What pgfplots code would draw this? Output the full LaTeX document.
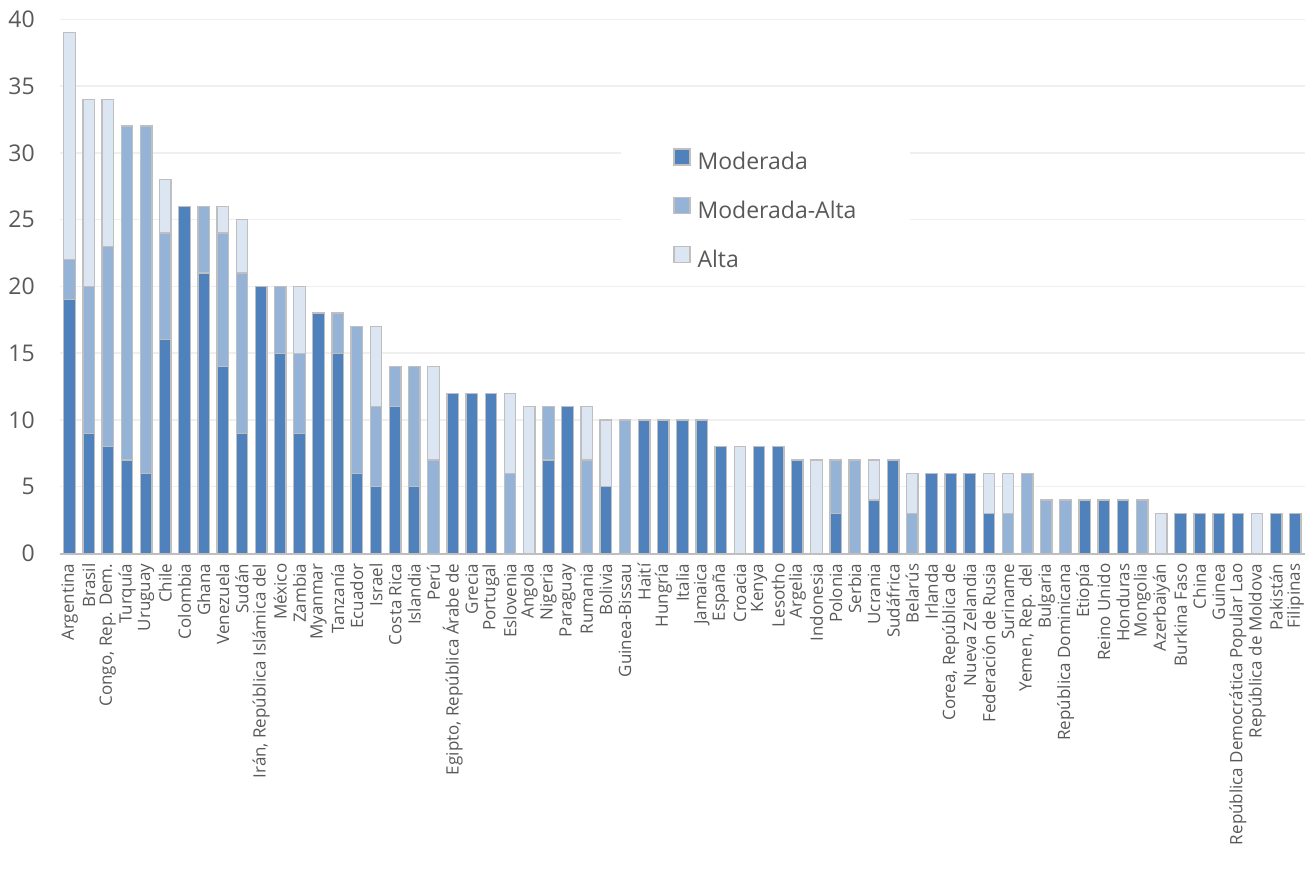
\documentclass[border=0pt]{standalone}
\usepackage{fontspec}
\setmainfont{Open Sans}
\usepackage{pgfplots}
\usepackage{pgfplotstable}
\pgfplotsset{compat=1.18}

\definecolor{cmod}{HTML}{4F81BD}
\definecolor{cmodalta}{HTML}{95B3D7}
\definecolor{calta}{HTML}{DCE6F2}
\definecolor{cedge}{HTML}{BFBFBF}
\definecolor{ctext}{HTML}{595959}
\definecolor{cgrid}{HTML}{EFEFEF}

% x: country index, mod: Moderada, ma: Moderada-Alta, al: Alta
\pgfplotstableread{
x  mod ma al
0  19  3  17
1  9   11 14
2  8   15 11
3  7   25 0
4  6   26 0
5  16  8  4
6  26  0  0
7  21  5  0
8  14  10 2
9  9   12 4
10 20  0  0
11 15  5  0
12 9   6  5
13 18  0  0
14 15  3  0
15 6   11 0
16 5   6  6
17 11  3  0
18 5   9  0
19 0   7  7
20 12  0  0
21 12  0  0
22 12  0  0
23 0   6  6
24 0   0  11
25 7   4  0
26 11  0  0
27 0   7  4
28 5   0  5
29 0   10 0
30 10  0  0
31 10  0  0
32 10  0  0
33 10  0  0
34 8   0  0
35 0   0  8
36 8   0  0
37 8   0  0
38 7   0  0
39 0   0  7
40 3   4  0
41 0   7  0
42 4   0  3
43 7   0  0
44 0   3  3
45 6   0  0
46 6   0  0
47 6   0  0
48 3   0  3
49 0   3  3
50 0   6  0
51 0   4  0
52 0   4  0
53 4   0  0
54 4   0  0
55 4   0  0
56 0   4  0
57 0   0  3
58 3   0  0
59 3   0  0
60 3   0  0
61 3   0  0
62 0   0  3
63 3   0  0
64 3   0  0
}\datos

\begin{document}
\begin{tikzpicture}
\useasboundingbox (0,0) rectangle (1310pt,876pt);
\begin{axis}[
  at={(60pt,322.5pt)}, anchor=south west,
  scale only axis, width=1245pt, height=534.2pt,
  xmin=-0.5, xmax=64.5, ymin=0, ymax=40,
  ybar stacked, bar width=11.5pt,
  axis lines*=left,
  x axis line style={draw=cedge, line width=2pt},
  y axis line style={draw=none},
  ymajorgrids, grid style={draw=cgrid, line width=1.5pt},
  ytick={0,5,...,40},
  major tick length=0pt,
  xtick=data,
  xticklabels={Argentina, Brasil, {Congo, Rep. Dem.}, Turquía, Uruguay, Chile,
    Colombia, Ghana, Venezuela, Sudán, {Irán, República Islámica del}, México,
    Zambia, Myanmar, Tanzanía, Ecuador, Israel, Costa Rica, Islandia, Perú,
    {Egipto, República Árabe de}, Grecia, Portugal, Eslovenia, Angola, Nigeria,
    Paraguay, Rumania, Bolivia, Guinea-Bissau, Haití, Hungría, Italia, Jamaica,
    España, Croacia, Kenya, Lesotho, Argelia, Indonesia, Polonia, Serbia,
    Ucrania, Sudáfrica, Belarús, Irlanda, {Corea, República de},
    Nueva Zelandia, Federación de Rusia, Suriname, {Yemen, Rep. del}, Bulgaria,
    República Dominicana, Etiopía, Reino Unido, Honduras, Mongolia, Azerbaiyán,
    Burkina Faso, China, Guinea, República Democrática Popular Lao,
    República de Moldova, Pakistán, Filipinas},
  xticklabel style={rotate=90, anchor=east, inner xsep=10pt, inner ysep=0pt,
    font=\fontsize{17}{19}\selectfont, text=ctext},
  yticklabel style={font=\fontsize{23}{26}\selectfont, text=ctext,
    inner xsep=0pt, xshift=-25pt},
  /pgf/number format/assume math mode=true,
  every axis plot/.append style={draw=cedge, line width=1.3pt},
  legend style={at={(0.4505,0.774)}, anchor=north west, fill=white, draw=none,
    font=\fontsize{23}{27}\selectfont, text=ctext,
    inner xsep=52pt, inner ysep=8pt, row sep=20pt,
    nodes={inner sep=2pt, text height=17pt, text depth=5pt}},
  legend cell align=left,
  legend image code/.code={\draw[#1, line width=1.5pt] (0pt,-1pt) rectangle (16pt,15pt);},
]
\addplot[fill=cmod] table[x=x, y=mod] {\datos};
\addplot[fill=cmodalta] table[x=x, y=ma] {\datos};
\addplot[fill=calta] table[x=x, y=al] {\datos};
\legend{\hspace{5pt}Moderada, \hspace{5pt}Moderada-Alta, \hspace{5pt}Alta}
\end{axis}
\end{tikzpicture}
\end{document}
